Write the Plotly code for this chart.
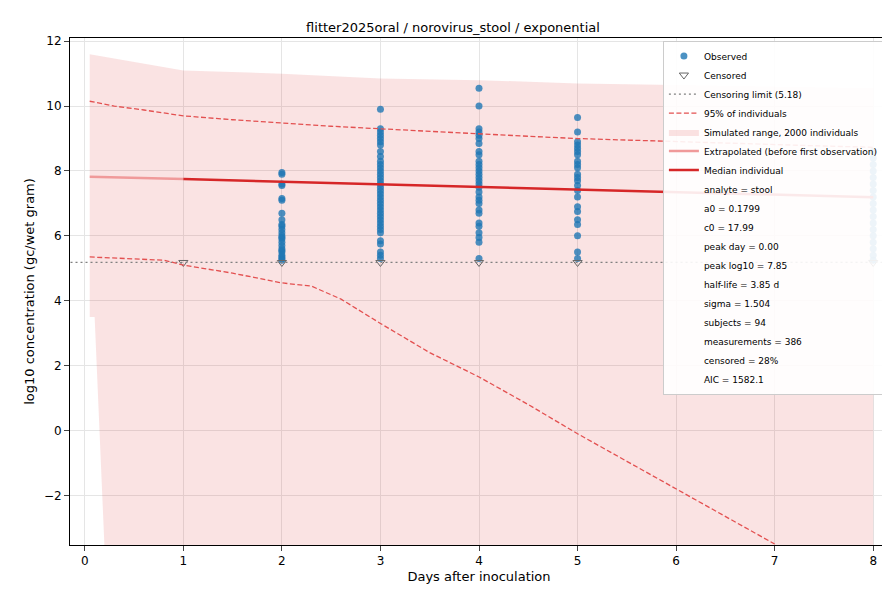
import plotly.graph_objects as go

# observed values per day (log10 gc/wet gram)
obs_d2 = [7.95, 7.9, 7.6, 7.55, 7.15, 7.1, 6.7, 6.5, 6.35, 6.3, 6.2, 6.1, 6.0, 5.95, 5.9, 5.8, 5.7, 5.6, 5.55, 5.5, 5.4, 5.35, 5.3, 5.25]
obs_d3 = [9.9, 9.3, 9.2, 9.1, 9.0, 8.9, 8.8, 8.6, 8.45, 8.3, 8.2, 8.1, 8.0, 7.9, 7.8, 7.7, 7.6, 7.5, 7.4, 7.3, 7.2, 7.1, 7.0, 6.9, 6.8, 6.7, 6.6, 6.5, 6.4, 6.3, 6.2, 6.1, 5.85, 5.75, 5.5, 5.4, 5.3]
obs_d4 = [10.55, 10.0, 9.3, 9.2, 9.1, 9.0, 8.85, 8.6, 8.5, 8.3, 8.2, 8.1, 8.0, 7.9, 7.8, 7.7, 7.6, 7.5, 7.35, 7.2, 7.1, 7.0, 6.8, 6.7, 6.4, 6.3, 6.1, 5.95, 5.8, 5.3]
obs_d5 = [9.65, 9.2, 8.9, 8.8, 8.7, 8.6, 8.5, 8.3, 8.2, 8.1, 7.9, 7.8, 7.7, 7.55, 7.4, 7.2, 6.9, 6.75, 6.5, 6.35, 6.0, 5.5, 5.3]
obs_d8 = [8.6, 8.4, 8.2, 8.0, 7.8, 7.6, 7.4, 7.2, 7.0, 6.8, 6.6, 6.4, 6.2, 6.0, 5.8, 5.6, 5.4, 5.25]
cens_days = [1, 2, 3, 4, 5, 8]
limit = 5.18

med_x = [1, 2, 3, 4, 5, 6, 7, 8]
med_y = [7.75, 7.67, 7.59, 7.51, 7.43, 7.35, 7.27, 7.19]
ext_x = [0.05, 1]
ext_y = [7.82, 7.75]

hi_x = [0.05, 0.3, 0.6, 1, 1.5, 2, 2.5, 3, 3.5, 4, 4.5, 5, 5.5, 6, 6.5, 7, 7.5, 8]
hi_y = [10.15, 10.0, 9.88, 9.7, 9.58, 9.47, 9.38, 9.3, 9.22, 9.13, 9.07, 9.0, 8.95, 8.9, 8.85, 8.81, 8.77, 8.73]
lo_x = [0.05, 0.5, 0.8, 1, 1.5, 2, 2.3, 2.6, 3, 3.5, 4, 4.5, 5, 5.5, 6, 6.5, 7]
lo_y = [5.35, 5.28, 5.25, 5.1, 4.85, 4.55, 4.45, 4.05, 3.3, 2.4, 1.65, 0.8, -0.1, -0.95, -1.8, -2.65, -3.5]

sim_x = [0.05, 1, 2, 3, 4, 5, 6, 7, 8]
sim_top = [11.6, 11.1, 11.0, 10.85, 10.8, 10.7, 10.65, 10.6, 10.55]
sim_lo_x = [0.05, 0.1, 0.2, 8]
sim_lo_y = [3.5, 3.5, -3.6, -3.6]

stats = ["analyte = stool", "a0 = 0.1799", "c0 = 17.99", "peak day = 0.00", "peak log10 = 7.85",
         "half-life = 3.85 d", "sigma = 1.504", "subjects = 94", "measurements = 386",
         "censored = 28%", "AIC = 1582.1"]

fig = go.Figure()
fig.add_trace(go.Scatter(x=sim_x + sim_lo_x[::-1], y=sim_top + sim_lo_y[::-1], fill="toself", mode="lines",
                         fillcolor="rgba(214,39,40,0.13)", line=dict(width=0),
                         name="Simulated range, 2000 individuals", legendrank=5))
ox, oy = [], []
for d, vals in [(2, obs_d2), (3, obs_d3), (4, obs_d4), (5, obs_d5), (8, obs_d8)]:
    ox += [d] * len(vals)
    oy += vals
fig.add_trace(go.Scatter(x=ox, y=oy, mode="markers", name="Observed", legendrank=1,
                         marker=dict(color="rgba(31,119,180,0.8)", size=7)))
fig.add_trace(go.Scatter(x=cens_days, y=[limit] * len(cens_days), mode="markers", name="Censored", legendrank=2,
                         marker=dict(symbol="triangle-down-open", color="#666", size=8)))
fig.add_trace(go.Scatter(x=[-0.5, 8.5], y=[limit, limit], mode="lines", name="Censoring limit (5.18)", legendrank=3,
                         line=dict(color="gray", dash="2px,3px", width=1.3)))
fig.add_trace(go.Scatter(x=hi_x, y=hi_y, mode="lines", name="95% of individuals", legendrank=4,
                         line=dict(color="#e35050", dash="5px,2.5px", width=1.3)))
fig.add_trace(go.Scatter(x=lo_x, y=lo_y, mode="lines", showlegend=False,
                         line=dict(color="#e35050", dash="5px,2.5px", width=1.3)))
fig.add_trace(go.Scatter(x=ext_x, y=ext_y, mode="lines", name="Extrapolated (before first observation)", legendrank=6,
                         line=dict(color="#f09a9a", width=2.5)))
fig.add_trace(go.Scatter(x=med_x, y=med_y, mode="lines", name="Median individual", legendrank=7,
                         line=dict(color="#d62728", width=2.5)))
for i, s in enumerate(stats):
    fig.add_trace(go.Scatter(x=[None], y=[None], mode="markers", name=s, legendrank=8 + i,
                             marker=dict(color="rgba(0,0,0,0)")))

fig.update_layout(
    width=890, height=590, plot_bgcolor="white", paper_bgcolor="white",
    font=dict(family="DejaVu Sans", size=12, color="black"),
    title=dict(text="flitter2025oral / norovirus_stool / exponential", x=0.5, y=0.975, font=dict(size=13)),
    margin=dict(l=62, r=10, t=30, b=53),
    legend=dict(x=0.995, y=0.995, xanchor="right", yanchor="top", bgcolor="rgba(255,255,255,0.9)",
                bordercolor="#ccc", borderwidth=1, font=dict(size=9), tracegroupgap=0, itemwidth=30),
)
fig.update_xaxes(range=[-0.15, 8.15], tickvals=list(range(9)), showgrid=True, gridcolor="#e5e5e5",
                 showline=True, linecolor="black", mirror=True, ticks="outside", zeroline=False,
                 title=dict(text="Days after inoculation", font=dict(size=13), standoff=4))
fig.update_yaxes(range=[-3.53, 12.1], tickvals=[-2, 0, 2, 4, 6, 8, 10, 12], showgrid=True, gridcolor="#e5e5e5",
                 showline=True, linecolor="black", mirror=True, ticks="outside", zeroline=False,
                 title=dict(text="log10 concentration (gc/wet gram)", font=dict(size=13), standoff=6))
fig.write_html("out.html")
